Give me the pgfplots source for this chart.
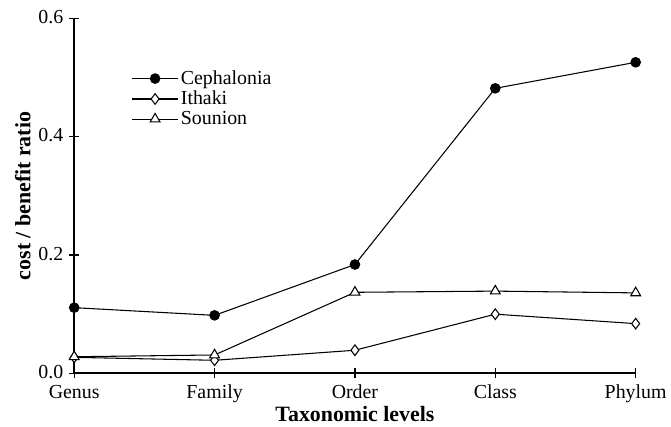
\documentclass[border=0pt]{standalone}
\usepackage{fontspec}
\setmainfont{Liberation Serif}
\usepackage{pgfplots}
\pgfplotsset{compat=1.18}
\begin{document}
\begin{tikzpicture}
\begin{axis}[
  scale only axis,
  width=423.75pt, height=267.75pt,
  xmin=0, xmax=4, ymin=0, ymax=0.6,
  axis x line*=bottom, axis y line*=left,
  axis line style={-, line width=1.3pt},
  clip=false,
  xtick={0,1,2,3,4},
  xticklabels={Genus,Family,Order,Class,Phylum},
  ytick={0,0.2,0.4,0.6},
  yticklabel style={xshift=-1pt, yshift=1pt, /pgf/number format/.cd,fixed,fixed zerofill,precision=1},
  xticklabel style={yshift=-1.5pt},
  /pgf/number format/assume math mode=true,
  tick align=center,
  major tick length=7.5pt,
  tick style={line width=0.9pt, black},
  tick label style={font=\fontsize{15}{17}\selectfont},
  xlabel={\textbf{Taxonomic levels}},
  ylabel={\textbf{cost / benefit ratio}},
  label style={font=\fontsize{16.5}{19}\selectfont},
  xlabel style={yshift=4pt},
  ylabel style={yshift=-1pt},
  legend style={draw=none, fill=none, at={(rel axis cs:0.1,0.865)}, anchor=north west,
    font=\fontsize{15}{17}\selectfont, row sep=-0.5pt, inner sep=1pt},
  legend cell align=left,
  legend image code/.code={\draw[mark repeat=2,mark phase=2,#1] plot coordinates {(0cm,0cm)(0.6cm,0cm)(1.2cm,0cm)};},
]
\addplot[black, line width=0.8pt, mark=*, mark size=3.6pt, mark options={fill=black}]
  coordinates {(0,0.111)(1,0.098)(2,0.184)(3,0.482)(4,0.526)};
\addlegendentry{Cephalonia}
\addplot[black, line width=0.8pt, mark=diamond*, mark size=4pt, mark options={fill=white, line width=0.8pt}]
  coordinates {(0,0.027)(1,0.022)(2,0.039)(3,0.100)(4,0.084)};
\addlegendentry{Ithaki}
\addplot[black, line width=0.8pt, mark=triangle*, mark size=4.3pt, mark options={fill=white, line width=0.8pt}]
  coordinates {(0,0.028)(1,0.031)(2,0.137)(3,0.139)(4,0.136)};
\addlegendentry{Sounion}
\end{axis}
\path (current axis.north) ++(0,14pt);
\path (current bounding box.west) ++(-8pt,0);
\end{tikzpicture}
\end{document}
